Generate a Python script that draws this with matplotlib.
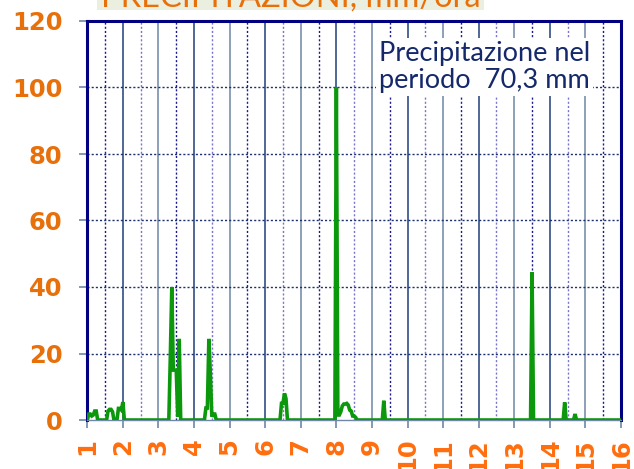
import numpy as np
import matplotlib.pyplot as plt
from matplotlib.patches import Rectangle

# hourly rain, mm/ora -- hour index counted from day 1 00:00, hours not listed are 0
ore = [1, 2, 3, 4, 5, 6,
       14, 15, 16, 17,
       21, 22, 23, 24,
       56, 57, 58, 59, 60, 61, 62,
       80, 81, 82, 83, 84, 85, 86,
       131, 132, 133, 134,
       168, 169, 170, 171, 172, 173, 174, 175, 176, 177, 178, 179, 180, 181,
       200,
       300,
       322,
       329]
pioggia = [1.8, 1.8, 1.2, 1.5, 2.7, 2.7,
           2.7, 3.2, 3.2, 2.5,
           3.5, 3.5, 3.0, 5.4,
           19, 40, 15, 15, 15, 1, 24.4,
           3.6, 3.6, 24.4, 14, 1, 1.8, 1.8,
           5, 5, 8, 6.5,
           100, 1.5, 1.5, 2.5, 4.2, 4.8, 4.8, 5.0, 4.5, 3.0, 2.7, 1.2, 1.2, 0.8,
           5.8,
           44.4,
           5.3,
           1.8]
n_ore = 15 * 24
giorni = np.arange(1, 17)
titolo = 'PRECIPITAZIONI, mm/ora'
nota = 'Precipitazione nel\nperiodo  70,3 mm'

serie = np.zeros(n_ore + 1)
serie[ore] = pioggia
t = 1 + np.arange(n_ore + 1) / 24.0

fig = plt.figure(figsize=(6.34, 4.69), dpi=100)
ax = fig.add_axes([87.3 / 634, 1 - 420 / 469, (621 - 87.3) / 634, (420 - 21) / 469])

# grid: solid lines on days, dotted on half days
for g in giorni[1:-1]:
    c = '#1f3f7a' if g % 2 == 0 else '#6f86a4'
    ax.axvline(g, color=c, lw=1.1, zorder=1)
for g in giorni[:-1] + 0.5:
    c = '#1a1a8a' if g % 2 == 1.5 else '#7a74c8'
    ax.axvline(g, color=c, lw=1.0, ls=(0, (1.5, 1.5)), zorder=1)
for v in range(20, 120, 20):
    ax.axhline(v, color='#1c2f6f', lw=1.0, ls=(0, (1.5, 1.5)), zorder=1)

ax.plot(t, serie, color='#0c980c', lw=2.6, solid_joinstyle='miter', zorder=3)

ax.set_xlim(1, 16)
ax.set_ylim(0, 120)
ax.set_xticks(giorni)
ax.set_yticks(range(0, 140, 20))
ax.set_xticklabels([str(g) for g in giorni], rotation=90, va='top')
ax.tick_params(axis='x', colors='#7088a8', length=5.8, width=1.2, pad=7,
               labelcolor='#ff6e0e', labelsize=17.5)
ax.tick_params(axis='y', colors='#7088a8', length=5.8, width=1.2, pad=12,
               labelcolor='#e8700a', labelsize=17.5)
for lab in ax.get_xticklabels() + ax.get_yticklabels():
    lab.set_fontweight('bold')

for s in ['left', 'top', 'right']:
    ax.spines[s].set_color('#000080')
    ax.spines[s].set_linewidth(2.2)
ax.spines['bottom'].set_color('#7088a8')
ax.spines['bottom'].set_linewidth(1.0)

ax.text(0.942, 0.95, nota, transform=ax.transAxes, ha='right', va='top',
        fontsize=19.5, family='Lato', color='#14286a', linespacing=1.1,
        bbox=dict(facecolor='white', edgecolor='none', pad=2), zorder=5)

# title box, cut by the top edge of the picture
fig.patches.append(Rectangle((97 / 634, 1 - 10.5 / 469), 387 / 634, 0.05,
                             transform=fig.transFigure, facecolor='#ebefdf',
                             edgecolor='none'))
fig.text(290.5 / 634, 1 - 6.5 / 469, titolo, ha='center', va='baseline',
         fontsize=23.5, family='Lato', color='#e8700a')

fig.savefig('out.png', dpi=100)
